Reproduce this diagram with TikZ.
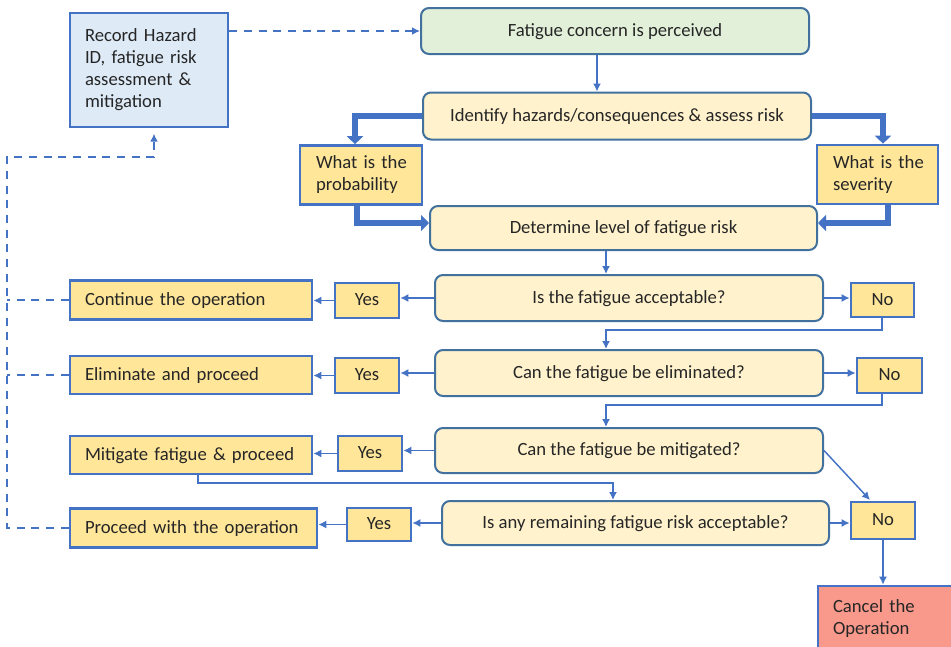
\documentclass[tikz,border=0pt]{standalone}
\usepackage{fontspec}
\setmainfont{Carlito}
\usetikzlibrary{arrows.meta,calc}
\definecolor{bl}{HTML}{4472C4}
\definecolor{bd}{HTML}{41719C}
\definecolor{lyel}{HTML}{FFF2CC}
\definecolor{yel}{HTML}{FFE699}
\definecolor{grn}{HTML}{E2F0D9}
\definecolor{lbl}{HTML}{DEEBF7}
\definecolor{cancelc}{HTML}{F8998B}
\definecolor{txt}{HTML}{262626}
\tikzset{
  every node/.style={font=\fontsize{14}{16.5}\selectfont, text=txt},
  sz/.style 2 args={minimum width=#1*0.75pt, minimum height=#2*0.75pt, inner sep=0pt},
  one/.style={text height=0.82em, text depth=0em},
  rbox/.style={draw=bd, line width=1.5pt, rounded corners=6pt, fill=lyel, one},
  sbox/.style={draw=bl, line width=2pt, fill=yel},
  lefttext/.style={align=left, text width=#1},
  conn/.style={draw=bl, line width=1.1pt, -{Latex[length=6pt,width=6pt]}},
  fat/.style={draw=bl, line width=4.5pt, -{Triangle[length=6pt,width=12pt]}},
  dsh/.style={draw=bl, line width=1.4pt, dash pattern=on 6pt off 5pt},
}
\begin{document}
\begin{tikzpicture}[x=0.75pt, y=-0.75pt]
\useasboundingbox (0,0) rectangle (951,647);
\clip (0,0) rectangle (951,647);
% nodes
\node[rbox, fill=grn, sz={388}{46}] (fc) at (615,31) {Fatigue concern is perceived};
\node[sbox, fill=lbl, sz={158}{114}, lefttext=96pt] (rec) at (149,70) {Record Hazard\\ID, fatigue risk\\assessment \&\\mitigation};
\node[rbox, sz={388}{47}] (id) at (617,116) {Identify hazards/consequences \& assess risk};
\node[sbox, sz={122}{59}, lefttext=67.5pt] (prob) at (361,175) {\mbox{What is the}\\probability};
\node[sbox, sz={121}{59}, lefttext=66.75pt] (sev) at (877.5,174.5) {\mbox{What is the}\\severity};
\node[rbox, sz={387}{44}] (det) at (623.5,228) {Determine level of fatigue risk};
\node[rbox, sz={388}{46}] (acc) at (629,298) {Is the fatigue acceptable?};
\node[sbox, one, sz={63}{34}] (no1) at (882.5,300) {No};
\node[rbox, sz={388}{46}] (elm) at (629,373) {Can the fatigue be eliminated?};
\node[sbox, one, sz={65}{35}] (no2) at (889.5,375.5) {No};
\node[rbox, sz={388}{45}] (mit) at (629,450.5) {Can the fatigue be mitigated?};
\node[rbox, sz={387}{44}] (rem) at (635.5,523) {Is any remaining fatigue risk acceptable?};
\node[sbox, one, sz={64}{37}] (no3) at (883,520.5) {No};
\node[sbox, fill=cancelc, sz={140}{66}, lefttext=82.5pt] (can) at (888,619) {Cancel the\\Operation};
\node[sbox, one, sz={242}{39}, lefttext=159pt] (cont) at (191,300) {\mbox{Continue the operation}};
\node[sbox, one, sz={64}{35}] (y1) at (367,300.5) {Yes};
\node[sbox, one, sz={242}{38}, lefttext=159pt] (elp) at (191,375) {\mbox{Eliminate and proceed}};
\node[sbox, one, sz={64}{35}] (y2) at (367,375.5) {Yes};
\node[sbox, one, sz={242}{38}, lefttext=159pt] (mtp) at (191,455) {\mbox{Mitigate fatigue \& proceed}};
\node[sbox, one, sz={64}{35}] (y3) at (370,453.5) {Yes};
\node[sbox, one, sz={247}{39}, lefttext=162.75pt] (prc) at (193.5,528) {\mbox{Proceed with the operation}};
\node[sbox, one, sz={64}{33}] (y4) at (379,524.5) {Yes};
% helper coordinates
\coordinate (xa) at (597,0);
\coordinate (xb) at (606,0);
\coordinate (xc) at (613,0);
\coordinate (xm) at (198,0);
\coordinate (xr) at (882,0);
\coordinate (yk1) at (0,330);
\coordinate (yk2) at (0,405);
\coordinate (yk3) at (0,483);
\coordinate (xl) at (355,0);
\coordinate (xs) at (883,0);
\coordinate (xp) at (357,0);
\coordinate (xv) at (888,0);
\coordinate (yt) at (0,223);
\coordinate (L) at (7,157);
\coordinate (R) at (154,157);
\coordinate (dg) at (870,500);
% thin connectors
\draw[conn] (fc.south -| xa) -- (id.north -| xa);
\draw[conn] (det.south -| xb) -- (acc.north -| xb);
\draw[conn] (no1.south -| xr) -- (xr |- yk1) -- (xb |- yk1) -- (elm.north -| xb);
\draw[conn] (no2.south -| xr) -- (xr |- yk2) -- (xb |- yk2) -- (mit.north -| xb);
\draw[conn] (mtp.south -| xm) -- (xm |- yk3) -- (xc |- yk3) -- (rem.north -| xc);
\draw[conn] (acc.west) -- (acc.west -| y1.east);
\draw[conn] (y1.west) -- (y1.west -| cont.east);
\draw[conn] (elm.west) -- (elm.west -| y2.east);
\draw[conn] (y2.west) -- (y2.west -| elp.east);
\draw[conn] (mit.west) -- (mit.west -| y3.east);
\draw[conn] (y3.west) -- (y3.west -| mtp.east);
\draw[conn] (rem.west) -- (rem.west -| y4.east);
\draw[conn] (y4.west) -- (y4.west -| prc.east);
\draw[conn] (acc.east) -- (acc.east -| no1.west);
\draw[conn] (elm.east) -- (elm.east -| no2.west);
\draw[conn] (rem.east) -- (rem.east -| no3.west);
\draw[conn] (mit.east) -- (dg);
\draw[conn] (no3.south) -- (can.north -| no3.south);
% thick connectors
\draw[fat] (id.west) -- (id.west -| xl) -- (prob.north -| xl);
\draw[fat] (id.east) -- (id.east -| xs) -- (sev.north -| xs);
\draw[fat] (prob.south -| xp) -- (xp |- yt) -- (det.west |- yt);
\draw[fat] (sev.south -| xv) -- (xv |- yt) -- (det.east |- yt);
% dashed connectors
\draw[dsh, -{Latex[length=6pt,width=6pt]}] (rec.east |- fc.west) -- (fc.west);
\draw[dsh] (cont.west) -- (cont.west -| L);
\draw[dsh] (elp.west) -- (elp.west -| L);
\draw[dsh, -{Latex[length=6pt,width=6pt]}, shorten >=4pt] (prc.west) -| (L) -| (rec.south -| R);
\end{tikzpicture}
\end{document}
